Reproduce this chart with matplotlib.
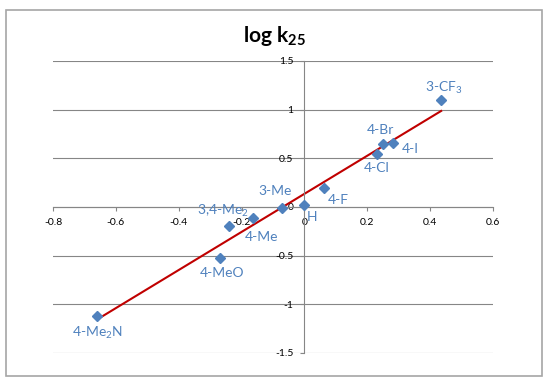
import numpy as np
import matplotlib
matplotlib.use('Agg')
import matplotlib.pyplot as plt
from matplotlib.patches import Rectangle

plt.rcParams['font.family'] = ['Lato', 'DejaVu Sans']
plt.rcParams['mathtext.fontset'] = 'custom'
plt.rcParams['mathtext.rm'] = 'Lato'
plt.rcParams['mathtext.it'] = 'Lato:italic'
plt.rcParams['mathtext.bf'] = 'Lato:bold'

# Hammett sigma vs log k25
substituents = ['4-Me$_2$N', '4-MeO', '3,4-Me$_2$', '4-Me', '3-Me', 'H',
                '4-F', '4-Cl', '4-Br', '4-I', '3-CF$_3$']
sigma = [-0.66, -0.268, -0.24, -0.165, -0.07, 0.0, 0.062, 0.23, 0.25, 0.283, 0.435]
log_k = [-1.12, -0.52, -0.20, -0.11, -0.01, 0.02, 0.20, 0.54, 0.65, 0.66, 1.10]

x_ticks = [-0.8, -0.6, -0.4, -0.2, 0, 0.2, 0.4, 0.6]
x_tick_labels = ['-0.8', '-0.6', '-0.4', '-0.2', '0', '0.2', '0.4', '0.6']
y_ticks = [-1.5, -1, -0.5, 0, 0.5, 1, 1.5]
y_tick_labels = ['-1.5', '-1', '-0.5', '0', '0.5', '1', '1.5']

# label offsets from the marker, in pixels
label_offsets = {
    '4-Me$_2$N': (0, -17), '4-MeO': (2, -15), '3,4-Me$_2$': (-6, 16),
    '4-Me': (9, -19), '3-Me': (-7, 17), 'H': (8, -12), '4-F': (14, -12),
    '4-Cl': (0, -14), '4-Br': (-3, 14), '4-I': (17, -6), '3-CF$_3$': (3, 12),
}

blue = '#4F81BD'
grey = '#868686'

fig = plt.figure(figsize=(5.5, 3.82), dpi=100)
ax = fig.add_axes([53/550, 1-353/382, 440/550, 292/382])

slope, intercept = np.polyfit(sigma, log_k, 1)
xf = np.array([min(sigma), max(sigma)])
ax.plot(xf, slope*xf + intercept, color='#C00000', lw=1.5, zorder=2)
ax.plot(sigma, log_k, 'D', color=blue, markersize=5.3, zorder=3)

for name, xv, yv in zip(substituents, sigma, log_k):
    dx, dy = label_offsets[name]
    ax.annotate(name, (xv, yv), xytext=(dx, dy), textcoords='offset pixels',
                ha='center', va='center', fontsize=10, color=blue)

ax.set_xlim(-0.8, 0.6)
ax.set_ylim(-1.5, 1.5)
ax.set_xticks(x_ticks)
ax.set_xticklabels(x_tick_labels)
ax.set_yticks(y_ticks)
ax.set_yticklabels(y_tick_labels)

for s in ['top', 'right']:
    ax.spines[s].set_visible(False)
ax.spines['left'].set_position(('data', 0))
ax.spines['bottom'].set_position(('data', 0))
for s in ['left', 'bottom']:
    ax.spines[s].set_color(grey)
    ax.spines[s].set_linewidth(0.8)
ax.yaxis.grid(True, color=grey, lw=0.8)
ax.set_axisbelow(True)
ax.tick_params(axis='both', direction='out', length=3, color=grey, width=0.8,
               labelsize=7.5, pad=5)

fig.text(274/550, 1-36/382, r'log k$_{\mathbf{25}}$', fontsize=15,
         fontweight='bold', ha='center', va='center')

fig.patches.append(Rectangle((6/550, 1-376/382), 536/550, 366/382,
                             transform=fig.transFigure, fill=False,
                             ec='#A6A6A6', lw=1.2))

fig.savefig('out.png', dpi=100)
